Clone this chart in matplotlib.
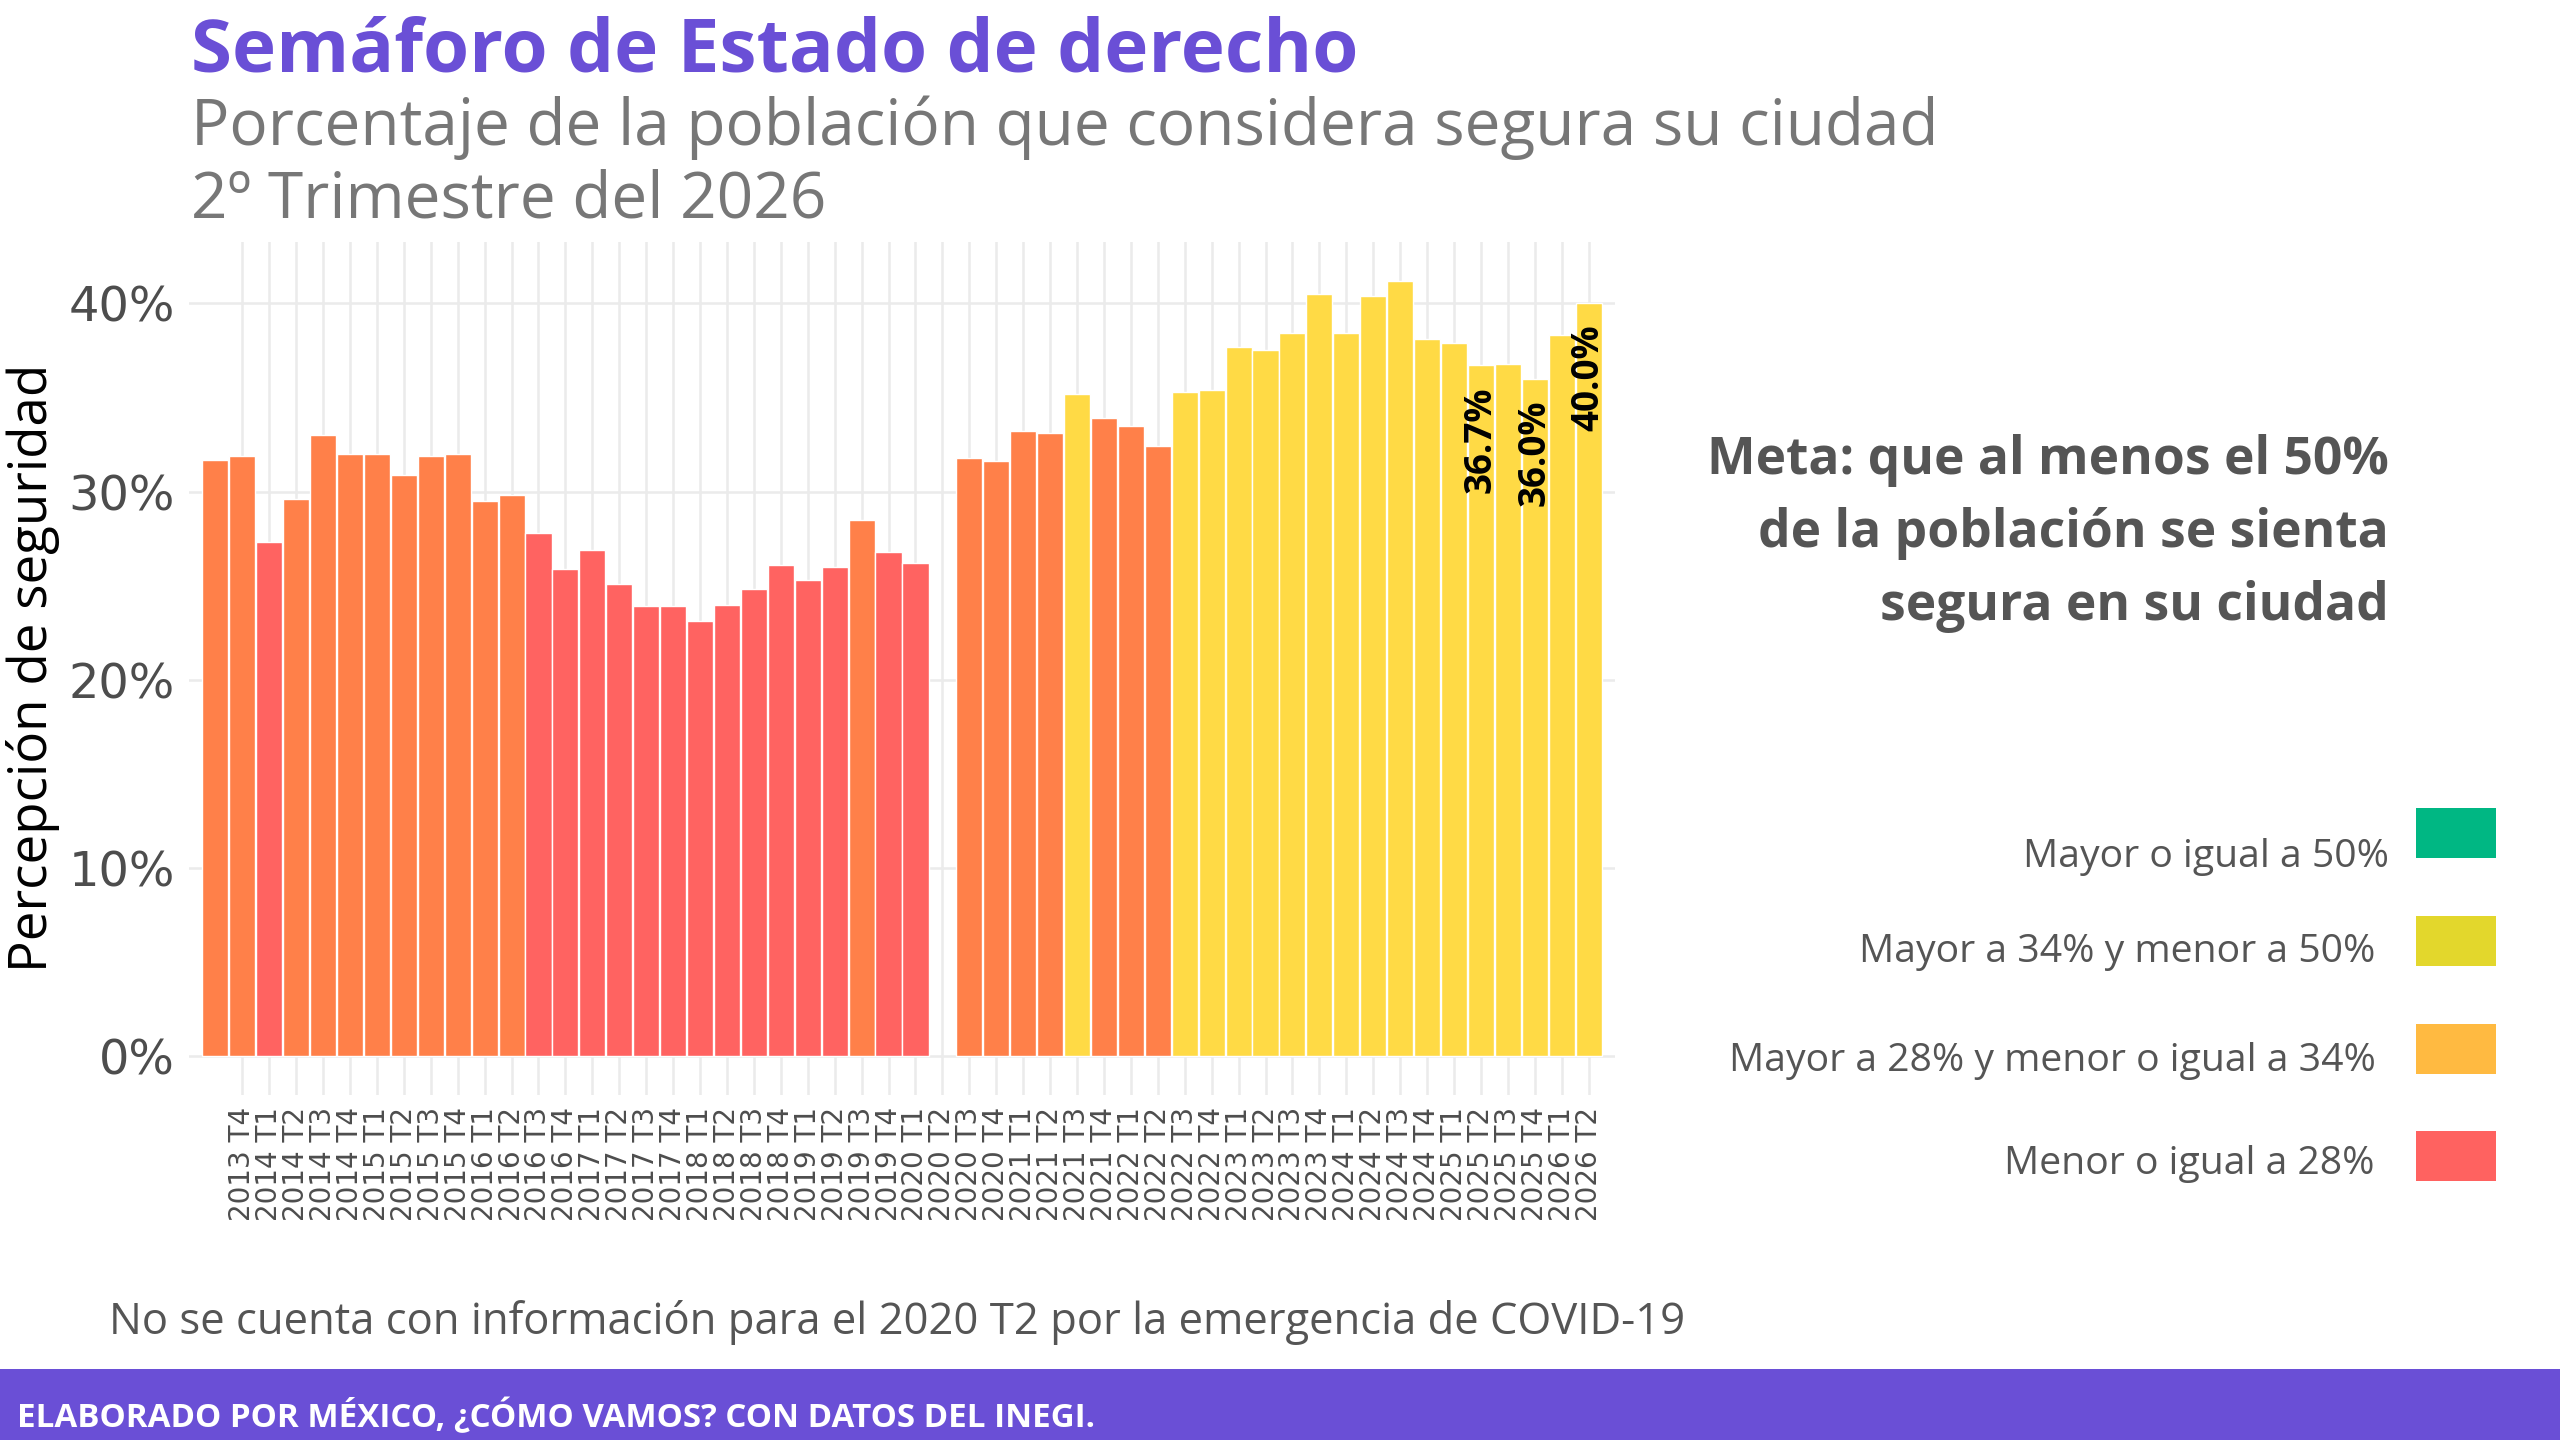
import matplotlib
matplotlib.use("Agg")
import matplotlib.pyplot as plt
from matplotlib.patches import Rectangle

# ---------------- data ----------------
periodos = [
    "2013 T3", "2013 T4",
    "2014 T1", "2014 T2", "2014 T3", "2014 T4",
    "2015 T1", "2015 T2", "2015 T3", "2015 T4",
    "2016 T1", "2016 T2", "2016 T3", "2016 T4",
    "2017 T1", "2017 T2", "2017 T3", "2017 T4",
    "2018 T1", "2018 T2", "2018 T3", "2018 T4",
    "2019 T1", "2019 T2", "2019 T3", "2019 T4",
    "2020 T1", "2020 T2", "2020 T3", "2020 T4",
    "2021 T1", "2021 T2", "2021 T3", "2021 T4",
    "2022 T1", "2022 T2", "2022 T3", "2022 T4",
    "2023 T1", "2023 T2", "2023 T3", "2023 T4",
    "2024 T1", "2024 T2", "2024 T3", "2024 T4",
    "2025 T1", "2025 T2", "2025 T3", "2025 T4",
    "2026 T1", "2026 T2",
]
valores = [
    31.7, 31.9,
    27.3, 29.6, 33.0, 32.0,
    32.0, 30.9, 31.9, 32.0,
    29.5, 29.8, 27.8, 25.9,
    26.9, 25.1, 23.9, 23.9,
    23.1, 24.0, 24.8, 26.1,
    25.3, 26.0, 28.5, 26.8,
    26.2, None, 31.8, 31.6,
    33.2, 33.1, 35.2, 33.9,
    33.5, 32.4, 35.3, 35.4,
    37.7, 37.5, 38.4, 40.5,
    38.4, 40.4, 41.2, 38.1,
    37.9, 36.7, 36.8, 36.0,
    38.3, 40.0,
]
etiquetados = ["2025 T2", "2025 T4", "2026 T2"]
yticks = [0, 10, 20, 30, 40]
leyenda_textos = ["Mayor o igual a 50%", "Mayor a 34% y menor a 50%",
                  "Mayor a 28% y menor o igual a 34%", "Menor o igual a 28%"]

titulo = "Semáforo de Estado de derecho"
subtitulo1 = "Porcentaje de la población que considera segura su ciudad"
subtitulo2 = "2º Trimestre del 2026"
meta = ["Meta: que al menos el 50%", "de la población se sienta", "segura en su ciudad"]
nota = "No se cuenta con información para el 2020 T2 por la emergencia de COVID-19"
pie = "ELABORADO POR MÉXICO, ¿CÓMO VAMOS? CON DATOS DEL INEGI."
ylabel = "Percepción de seguridad"

# ---------------- styles ----------------
C_RED, C_ORANGE, C_YELLOW = "#FF6361", "#FF8049", "#FFDA45"
LEG_COLORS = ["#00B783", "#E3D72C", "#FFBA41", "#FF6260"]
PURPLE = "#6A4FD6"
FAM = ["Open Sans", "DejaVu Sans"]
TICKFAM = ["DejaVu Sans"]

W, H = 2560, 1440
fig = plt.figure(figsize=(25.6, 14.4), dpi=100)
fig.patch.set_facecolor("white")
renderer = fig.canvas.get_renderer()


def fx(x):
    return x / W


def fy(y):
    return 1 - y / H


def fit_text(x, y, s, target, size0, ha="left", va="baseline", rotation=0, **kw):
    t = fig.text(fx(x), fy(y), s, ha=ha, va=va, rotation=rotation,
                 fontsize=size0, **kw)
    for _ in range(3):
        bb = t.get_window_extent(renderer=renderer)
        cur = bb.height if rotation == 90 else bb.width
        t.set_fontsize(t.get_fontsize() * target / cur)
    return t


# ---------------- main axes ----------------
L, R, T, B = 189, 1615, 242, 1095
ax = fig.add_axes([fx(L), fy(B), fx(R) - fx(L), fy(T) - fy(B)])
ax.set_facecolor("white")

xs = list(range(len(periodos)))
for i, v in enumerate(valores):
    if v is None:
        continue
    if v <= 28:
        c = C_RED
    elif v <= 34:
        c = C_ORANGE
    else:
        c = C_YELLOW
    ax.bar(i, v, width=0.97, color=c, edgecolor="white", linewidth=1.0, zorder=3)
    if periodos[i] in etiquetados:
        ax.annotate(f"{v:.1f}%", xy=(i, v), xytext=(0, -15),
                    textcoords="offset points", rotation=90,
                    ha="center", va="top", fontsize=26.5,
                    fontweight="bold", family=FAM, color="black", zorder=4)

vmax = max(v for v in valores if v is not None)
ax.set_ylim(-0.05 * vmax, 1.05 * vmax)
ax.set_xlim(-0.98, len(periodos) - 1 + 0.98)

ax.set_xticks(xs[1:])
ax.set_xticklabels(periodos[1:], rotation=90, fontsize=20,
                   color="#4D4D4D", family=TICKFAM)
ax.set_yticks(yticks)
ax.set_yticklabels([f"{t}%" for t in yticks], fontsize=34.5,
                   color="#4D4D4D", family=TICKFAM)
ax.tick_params(axis="x", length=0, pad=8.6)
ax.tick_params(axis="y", length=0, pad=10)
for sp in ax.spines.values():
    sp.set_visible(False)
ax.grid(True, color="#EBEBEB", linewidth=1.8, zorder=0)
ax.set_axisbelow(True)

# ---------------- titles ----------------
fit_text(191, 72, titulo, 1167, 56, fontweight="bold", color=PURPLE, family=FAM)
s1 = fit_text(191, 145, subtitulo1, 1748, 46, color="#777777", family=FAM)
fig.text(fx(191), fy(217), subtitulo2, ha="left", va="baseline",
         fontsize=s1.get_fontsize(), color="#777777", family=FAM)

# y label
fit_text(33, 668, ylabel, 608, 38, ha="center", va="center", rotation=90,
         color="black", family=FAM)

# ---------------- meta text ----------------
mt = fit_text(2389, 474, meta[0], 682, 40, ha="right", fontweight="bold",
              color="#555555", family=FAM)
ms = mt.get_fontsize()
for line, yb in zip(meta[1:], [547, 620]):
    fig.text(fx(2389), fy(yb), line, ha="right", va="baseline", fontsize=ms,
             fontweight="bold", color="#555555", family=FAM)

# ---------------- legend ----------------
box_tops = [808, 916, 1024, 1131]
text_base = [867, 962, 1071, 1174]
text_right = [2389, 2375, 2376, 2375]
lt = fit_text(text_right[0], text_base[0], leyenda_textos[0], 366, 33,
              ha="right", color="#555555", family=FAM)
ls = lt.get_fontsize()
for k in range(4):
    fig.add_artist(Rectangle((fx(2416), fy(box_tops[k] + 50)), fx(80), 50 / H,
                             transform=fig.transFigure, color=LEG_COLORS[k],
                             linewidth=0))
    if k > 0:
        fig.text(fx(text_right[k]), fy(text_base[k]), leyenda_textos[k],
                 ha="right", va="baseline", fontsize=ls,
                 color="#555555", family=FAM)

# ---------------- note & footer ----------------
fit_text(109, 1334, nota, 1579, 34, color="#555555", family=FAM)

fig.add_artist(Rectangle((0, 0), 1, 1 - 1369 / H, transform=fig.transFigure,
                         color=PURPLE, linewidth=0))
fit_text(17, 1427, pie, 1083, 24, fontweight="bold", color="white", family=FAM)

fig.savefig("out.png", dpi=100, facecolor="white")
